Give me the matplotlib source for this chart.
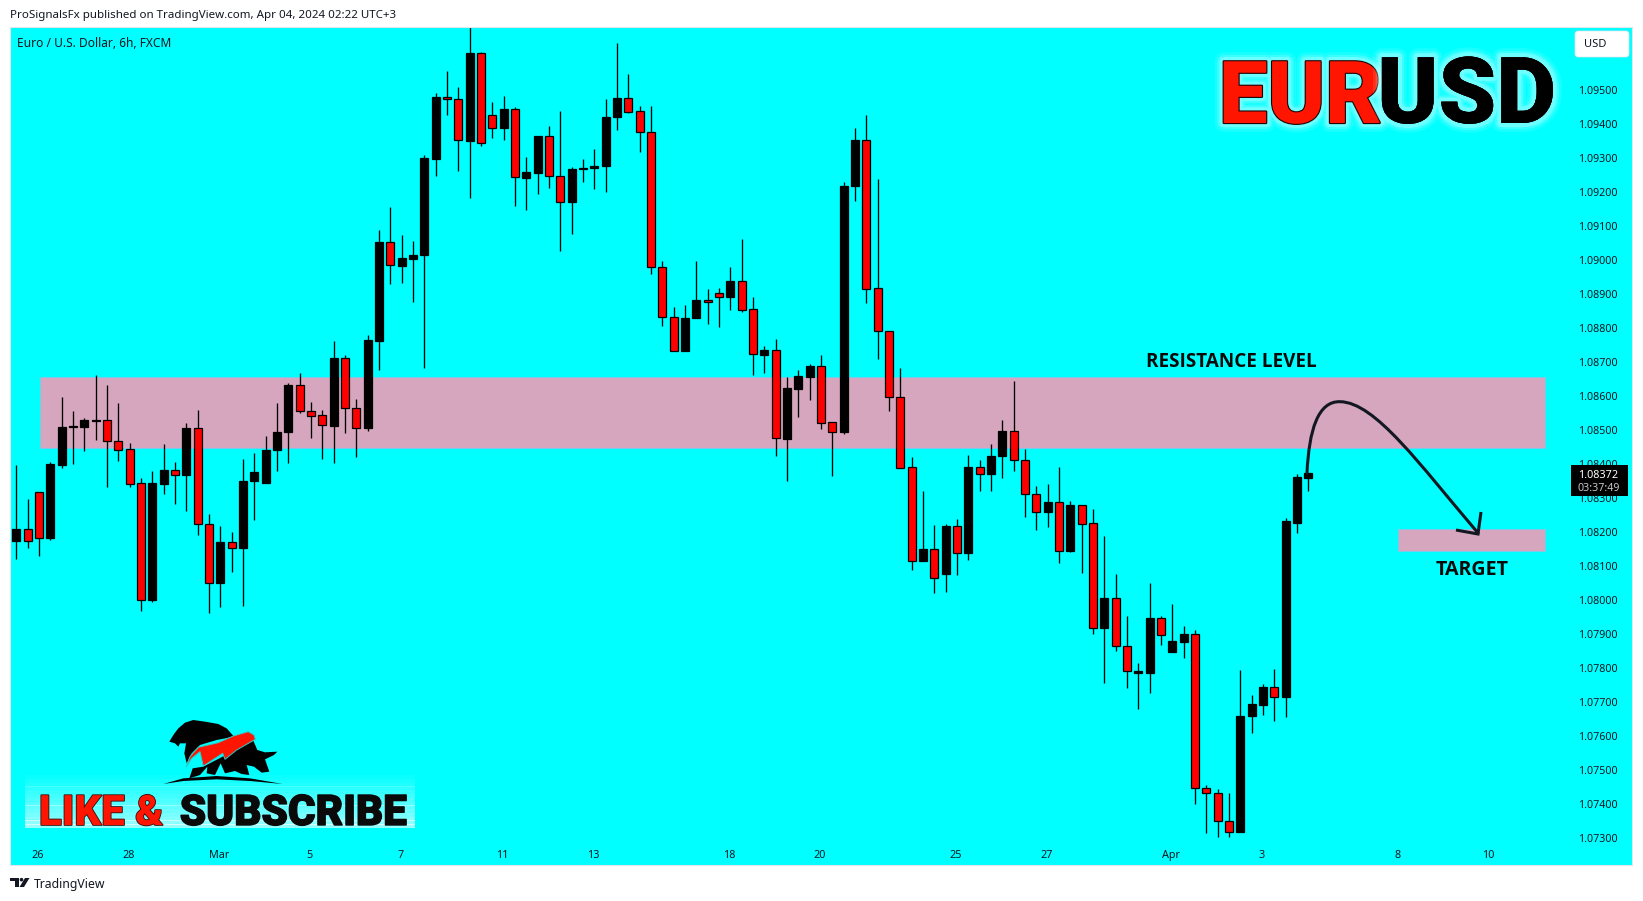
import numpy as np
import matplotlib
matplotlib.use("Agg")
import matplotlib.pyplot as plt
from matplotlib.patches import Rectangle, FancyBboxPatch, PathPatch, Polygon, Circle
from matplotlib.path import Path
from matplotlib.transforms import Affine2D
import matplotlib.patheffects as pe

open_pts = [108173,108207,108318,108182,108397,108507,108509,108525,108528,108468,108442,108342,107998,108341,108380,108368,108504,108224,108050,108169,
 108151,108348,108344,108439,108492,108631,108554,108542,108512,108712,108565,108506,108762,109051,108982,109003,109014,109297,109478,109472,
 109350,109607,109425,109386,109442,109241,109256,109363,109245,109168,109265,109268,109274,109418,109475,109436,109375,108978,108831,108730,
 108827,108881,108901,108889,108937,108854,108721,108734,108474,108621,108656,108687,108522,108494,109215,109352,108916,108790,108595,108390,
 108115,108149,108077,108216,108136,108390,108371,108424,108495,108410,108310,108257,108286,108144,108278,108225,107918,108005,107864,107786,
 107786,107946,107845,107877,107899,107446,107431,107349,107316,107657,107691,107743,107713,108227,108359]
high_pts = [108396,108296,108318,108404,108596,108555,108535,108661,108631,108578,108462,108358,108378,108458,108404,108520,108558,108252,108217,108199,
 108415,108431,108482,108578,108636,108666,108582,108557,108761,108719,108590,108778,109087,109155,109072,109054,109307,109490,109555,109508,
 109683,109611,109464,109482,109448,109302,109364,109393,109437,109273,109296,109326,109473,109637,109546,109452,109452,108996,108861,108867,
 108996,108914,108917,108979,109061,108891,108747,108767,108655,108676,108694,108719,108522,109229,109388,109425,109238,108790,108682,108420,
 108320,108220,108223,108238,108426,108411,108458,108529,108644,108444,108334,108340,108390,108290,108279,108267,108188,108075,107953,107815,
 108050,107953,107988,107923,107912,107456,107444,107432,107794,107721,107753,107797,108241,108370,108372]
low_pts = [108120,108151,108129,108177,108386,108399,108438,108469,108332,108408,108330,107968,107993,108311,108281,108262,108190,107962,107980,108082,
 107983,108235,108344,108378,108402,108549,108476,108414,108402,108491,108420,108496,108676,108928,108932,108876,108680,109247,109424,109262,
 109180,109333,109359,109353,109159,109147,109194,109212,109024,109074,109229,109209,109200,109380,109430,109317,108959,108806,108730,108730,
 108827,108812,108803,108853,108845,108662,108668,108424,108348,108536,108586,108501,108365,108487,109171,108873,108707,108556,108388,108086,
 108115,108021,108024,108074,108118,108319,108319,108359,108379,108244,108206,108215,108109,108139,108079,107900,107754,107850,107741,107680,
 107727,107867,107845,107830,107398,107313,107301,107301,107316,107607,107660,107642,107654,108195,108321]
close_pts = [108207,108173,108182,108399,108507,108512,108528,108529,108468,108441,108341,107998,108342,108380,108368,108504,108224,108050,108169,108151,
 108348,108375,108439,108492,108631,108554,108541,108513,108712,108565,108506,108763,109051,108984,109005,109015,109299,109479,109471,109351,
 109608,109342,109386,109443,109242,109258,109364,109245,109169,109267,109270,109276,109420,109476,109435,109375,108977,108831,108730,108828,
 108882,108874,108889,108938,108853,108722,108735,108475,108623,108658,108688,108521,108494,109217,109352,108915,108789,108595,108388,108115,
 108150,108065,108217,108136,108390,108371,108424,108495,108410,108310,108257,108286,108144,108279,108224,107918,108005,107863,107789,107791,
 107947,107895,107879,107900,107445,107431,107348,107316,107659,107694,107744,107713,108232,108361,108372]
PRICE_SCALE = 1e-5

date_positions = [2, 10, 18, 26, 34, 43, 51, 63, 71, 83, 91, 102, 110, 122, 130]
date_labels = ["26", "28", "Mar", "5", "7", "11", "13", "18", "20", "25", "27", "Apr", "3", "8", "10"]
bold_dates = ["Mar", "Apr"]
price_ticks = [1.073 + 0.001 * k for k in range(23)]
resistance_zone = (1.08445, 1.08654)
target_zone = (1.08142, 1.08209)
last_price = "1.08372"
countdown = "03:37:49"

CYAN = "#00FFFF"
RED = "#FF0000"
PINK = "#D5A6BD"
INK = "#131722"
UI = "Noto Sans"

fig = plt.figure(figsize=(1643.01 / 100, 901.01 / 100), dpi=100, facecolor="white")
L, T, R, B = 10.3, 27.0, 1632.0, 865.0
ax = fig.add_axes([L / 1643, 1 - B / 901, (R - L) / 1643, (B - T) / 901])
ax.set_facecolor(CYAN)
px = Affine2D().scale(1, -1).translate(0, 901)

o = np.array(open_pts) * PRICE_SCALE
h = np.array(high_pts) * PRICE_SCALE
l = np.array(low_pts) * PRICE_SCALE
c = np.array(close_pts) * PRICE_SCALE
x = np.arange(len(o))
up = c >= o

ax.set_xlim((L - 16.3) / 11.335, (R - 16.3) / 11.335)
ax.set_ylim(1.07220, 1.09684)

ax.axhspan(*resistance_zone, xmin=(39.7 - L) / (R - L), xmax=(1545 - L) / (R - L),
           facecolor=PINK, edgecolor="#7FC8E8", lw=0.7, zorder=1)
ax.axhspan(*target_zone, xmin=(1398.3 - L) / (R - L), xmax=(1545 - L) / (R - L),
           facecolor=PINK, edgecolor="#7FC8E8", lw=0.7, zorder=1)

ax.vlines(x, l, h, color="black", lw=0.95, zorder=2)
ax.bar(x, np.abs(c - o), bottom=np.minimum(o, c), width=8.0 / 11.335,
       color=np.where(up, "black", RED), edgecolor="black", lw=0.9, zorder=3)

ax.set_xticks(np.array(date_positions) - 0.13)
ax.set_xticklabels(date_labels, fontfamily=UI, fontsize=7.8, color=INK)
for lab in ax.get_xticklabels():
    if lab.get_text() in bold_dates:
        lab.set_fontweight("bold")
ax.set_yticks(price_ticks)
ax.set_yticklabels([f"{p:.5f}" for p in price_ticks], fontfamily=UI, fontsize=7.7, color=INK)
ax.yaxis.tick_right()
ax.tick_params(axis="x", length=0, pad=-11)
ax.tick_params(axis="y", length=0, pad=-39)
for s in ax.spines.values():
    s.set_color("#DDE8EE")
    s.set_linewidth(0.8)

def txt(xp, yp, s, **kw):
    kw.setdefault("family", UI)
    kw.setdefault("color", INK)
    kw.setdefault("va", "center")
    return fig.text(xp, yp, s, transform=px, zorder=8, **kw)

txt(10, 15, "ProSignalsFx published on TradingView.com, Apr 04, 2024 02:22 UTC+3", fontsize=8.3)
txt(17, 43, "Euro / U.S. Dollar, 6h, FXCM", fontsize=8.6)
txt(33.5, 884, "TradingView", fontsize=8.8)

# TradingView mark
for pts in ([(10, 878), (18.5, 878), (18.5, 887), (14.5, 887), (14.5, 881), (10, 881)],
            [(25, 878), (29.5, 878), (24, 887), (19.5, 887)]):
    fig.add_artist(Polygon(pts, closed=True, transform=px, fc=INK, ec="none", zorder=8))
fig.add_artist(Circle((21.5, 879.7), 1.8, transform=px, fc=INK, ec="none", zorder=8))

# currency badge and price tag
fig.add_artist(FancyBboxPatch((1577, 33), 50, 22, boxstyle="round,pad=2,rounding_size=3", transform=px,
                              fc="white", ec="#E0E3EB", lw=0.5, zorder=6))
txt(1584, 44.5, "USD", fontsize=8)
fig.add_artist(Rectangle((1571, 465), 57, 30.7, transform=px, fc="black", ec="none", zorder=6))
txt(1598.5, 475, last_price, color="white", fontsize=7.8, ha="center")
txt(1599, 488.5, countdown, color="#C4C4C4", fontsize=7.7, ha="center")

# annotations
txt(1231, 362, "RESISTANCE LEVEL", fontsize=13.6, fontweight="bold", color="#0A0A0A", ha="center",
    family="Open Sans")
txt(1472, 570, "TARGET", fontsize=14.1, fontweight="bold", color="#0A0A0A", ha="center", family="Open Sans")
curve = Path([(1307, 473), (1309, 430), (1318, 401), (1340, 401.7), (1375, 402), (1420, 465), (1478, 533)],
             [Path.MOVETO, Path.CURVE4, Path.CURVE4, Path.CURVE4, Path.CURVE4, Path.CURVE4, Path.CURVE4])
fig.add_artist(PathPatch(curve, transform=px, fc="none", ec=INK, lw=2.2, capstyle="round", zorder=7))
head = Path([(1456, 530), (1478, 534), (1481, 512)], [Path.MOVETO, Path.LINETO, Path.LINETO])
fig.add_artist(PathPatch(head, transform=px, fc="none", ec=INK, lw=2.2, capstyle="butt", joinstyle="miter", zorder=7))

# EURUSD banner
glow = [pe.withStroke(linewidth=w, foreground="white", alpha=a) for w, a in ((13, .10), (9, .16), (6, .25))]
big = dict(family="Roboto", fontweight="black", va="baseline")
txt(1219, 123, "EUR", color="#FF1500", ha="left", fontsize=62.5,
    path_effects=glow + [pe.withStroke(linewidth=1.6, foreground="#200000")], **big)
txt(1556, 123, "USD", color="black", ha="right", fontsize=66.5, path_effects=glow + [pe.Normal()], **big)

# subscribe banner
bands = 14
for k in range(bands):
    y0 = 775 + k * (828 - 775) / bands
    fig.add_artist(Rectangle((25, y0), 390, (828 - 775) / bands + .3, transform=px, fc="white", ec="none",
                             alpha=0.6 * (k + 1) / bands, zorder=6))
sub = dict(family="Roboto", fontweight="black", va="baseline")
txt(39, 825, "LIKE &", color="#FF1500", ha="left", fontsize=30.2,
    path_effects=[pe.withStroke(linewidth=1.2, foreground="#301010")], **sub)
txt(407, 825, "SUBSCRIBE", color="#0A0A0A", ha="right", fontsize=30.4,
    path_effects=[pe.withStroke(linewidth=1.0, foreground="#0A0A0A")], **sub)

def logo(pts, color, **kw):
    p = [(150 + a / 3, 710 + b / 3) for a, b in pts]
    fig.add_artist(Polygon(p, closed=True, transform=px, fc=color, zorder=7, **kw))

logo([(58,95),(72,72),(85,55),(105,38),(130,30),(165,35),(205,42),(230,55),(252,80),(200,90),(150,105),(125,130),(110,160),
      (103,130),(108,100),(90,100),(85,110),(75,100)], "black", ec="none")
logo([(118,205),(128,175),(160,170),(310,92),(322,120),(345,127),(382,125),(372,135),(345,148),(358,185),(335,188),(312,170),
      (290,165),(298,195),(275,192),(255,183),(225,190),(212,160),(195,195),(170,190),(172,170),(150,195)], "black", ec="none")
logo([(108,172),(120,140),(145,112),(205,98),(250,78),(295,65),(312,75),(316,88),(295,100),(260,120),(225,148),(218,130),
      (160,168),(150,125),(125,145)], "#FF1500", ec="#30C8C8", lw=0.7)
logo([(40,222),(100,205),(200,198),(300,205),(398,222),(300,213),(200,208),(100,213)], "black", ec="none")

fig.savefig("out.png", dpi=100, facecolor="white")
